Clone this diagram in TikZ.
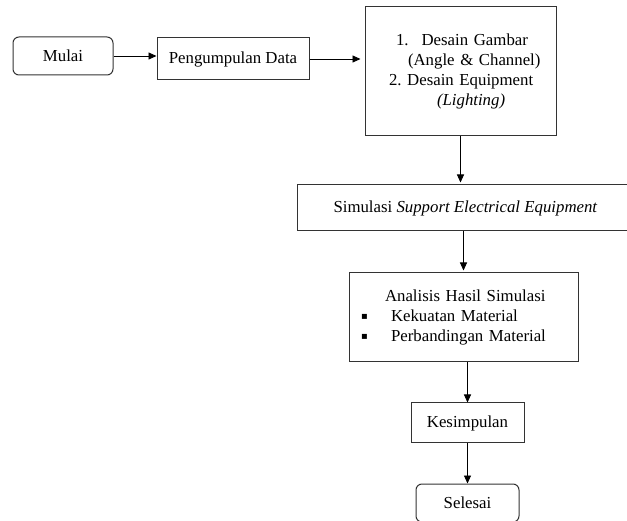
\documentclass[tikz,border=0pt]{standalone}
\usepackage{fontspec}
\setmainfont{Liberation Serif}
\newfontfamily\symfont{DejaVu Sans}
\usepackage{tikz}
\usetikzlibrary{arrows.meta}
\frenchspacing
\newcommand{\itembox}{\makebox[30pt][l]{\raisebox{2.5pt}{\fontsize{10}{10}\symfont ▪}}}

\begin{document}
\begin{tikzpicture}[x=1pt,y=-1pt,
	font=\fontsize{16.8}{20}\selectfont,
	box/.style={draw=black!80,line width=1pt,inner sep=0pt},
	terminal/.style={box,rounded corners=6pt},
	>={Triangle[length=8pt,width=7pt]},
	every path/.style={line width=0.9pt}]
	\useasboundingbox (0,0) rectangle (627,521);
	\node[terminal,minimum width=100pt,minimum height=38pt] (mulai) at (63,56) {Mulai};
	\node[box,minimum width=152pt,minimum height=42pt] (data) at (233,59) {Pengumpulan Data};
	\node[box,text width=191pt,minimum height=129pt,align=left] (desain) at (460.5,71.5)
		{\hspace*{31pt}1.\hspace*{13pt}Desain Gambar\\
		 \hspace*{43pt}(Angle \& Channel)\\
		 \hspace*{24pt}2. Desain Equipment\\
		 \hspace*{72pt}\textit{(Lighting)}};
	\node[box,minimum width=337pt,minimum height=46pt] (simulasi) at (465.5,208) {Simulasi \textit{Support Electrical Equipment}};
	\node[box,text width=229pt,minimum height=89pt,align=left] (analisis) at (463.5,317.5)
		{\hspace*{36pt}Analisis Hasil Simulasi\\
		 \hspace*{12pt}\itembox Kekuatan Material\\
		 \hspace*{12pt}\itembox Perbandingan Material};
	\node[box,minimum width=113pt,minimum height=40pt] (kesimpulan) at (467.5,423) {Kesimpulan};
	\node[terminal,minimum width=103pt,minimum height=38pt] (selesai) at (467.5,503) {Selesai};
	\path[->] (mulai) edge (mulai -| data.west);
	\path[->] (data) edge[shorten >=4pt] (data -| desain.west);
	\path[->] (desain) edge[shorten >=2pt] (desain |- simulasi.north);
	\path[->] (analisis |- simulasi.south) edge[shorten >=2pt] (analisis);
	\path[->] (kesimpulan |- analisis.south) edge (kesimpulan);
	\path[->] (kesimpulan) edge (selesai);
	%\draw [red] (current bounding box.south west) rectangle (current bounding box.north east);
\end{tikzpicture}
\end{document}
